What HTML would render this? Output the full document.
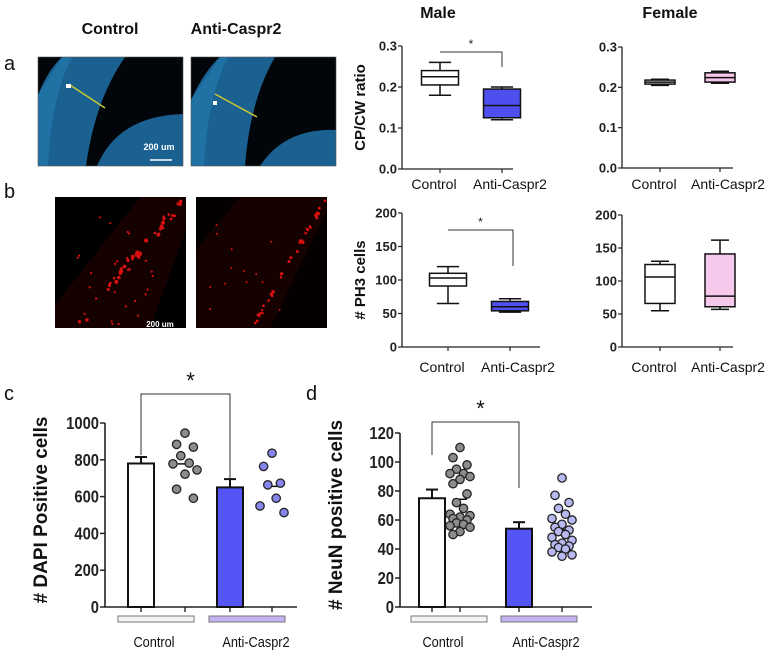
<!DOCTYPE html>
<html><head><meta charset="utf-8">
<style>
html,body{margin:0;padding:0;background:#fff;}
svg{display:block;font-family:"Liberation Sans",Arial,sans-serif;}
</style></head>
<body>
<svg id="fig" width="778" height="655" viewBox="0 0 778 655" xmlns="http://www.w3.org/2000/svg">
<defs>
 <clipPath id="c1"><rect x="38" y="57" width="145" height="109"/></clipPath>
 <clipPath id="c2"><rect x="191" y="57" width="145" height="109"/></clipPath>
 <clipPath id="c3"><rect x="55" y="197" width="131" height="131"/></clipPath>
 <clipPath id="c4"><rect x="196" y="197" width="131" height="131"/></clipPath>
</defs>
<g font-weight="bold" font-size="16" fill="#111">
 <text x="110" y="34" text-anchor="middle">Control</text>
 <text x="236" y="34" text-anchor="middle">Anti-Caspr2</text>
 <text x="438" y="18" text-anchor="middle">Male</text>
 <text x="670" y="18" text-anchor="middle">Female</text>
</g>
<g font-size="20" fill="#111">
 <text x="4" y="70">a</text>
 <text x="4" y="198">b</text>
 <text x="4" y="400">c</text>
 <text x="306" y="400">d</text>
</g>
<!-- DAPI images -->
<g clip-path="url(#c1)">
 <rect x="38" y="57" width="145" height="109" fill="#02060a"/>
 <path d="M62 57 L125 57 Q95 100 86 166 L38 166 L38 95 Q48 70 62 57 Z" fill="#1a6192"/>
 <path d="M62 57 L72 57 Q52 95 48 166 L38 166 L38 95 Z" fill="#2478ad" opacity="0.7"/>
 <path d="M97 166 Q118 116 183 114 L183 166 Z" fill="#1a6192"/>
 <line x1="70" y1="85" x2="105" y2="108" stroke="#c8c832" stroke-width="1.5"/>
 <rect x="66" y="84" width="5" height="4" fill="#fff"/>
 <text x="159" y="150" font-size="9" fill="#fff" font-weight="bold" text-anchor="middle">200  um</text>
 <line x1="150" y1="160" x2="172" y2="160" stroke="#fff" stroke-width="1.5"/>
</g>
<rect x="38" y="57" width="145" height="109" fill="none" stroke="#555" stroke-width="0.6"/>
<g clip-path="url(#c2)">
 <rect x="191" y="57" width="145" height="109" fill="#02060a"/>
 <path d="M220 57 L275 57 Q250 100 245 166 L191 166 L191 100 Q205 70 220 57 Z" fill="#1a6192"/>
 <path d="M220 57 L228 57 Q208 95 204 166 L191 166 L191 100 Z" fill="#2478ad" opacity="0.7"/>
 <path d="M260 166 Q285 128 336 130 L336 166 Z" fill="#1a6192"/>
 <line x1="215" y1="94" x2="257" y2="117" stroke="#c8c832" stroke-width="1.5"/>
 <rect x="213" y="101" width="4" height="4" fill="#fff"/>
</g>
<rect x="191" y="57" width="145" height="109" fill="none" stroke="#555" stroke-width="0.6"/>
<!-- PH3 images -->
<g clip-path="url(#c3)">
 <rect x="55" y="197" width="131" height="131" fill="#000"/>
 <path d="M55 305 L140 197 L186 197 L186 230 L150 328 L55 328 Z" fill="#160101"/>
 <g id="dots1" fill="#d81010"></g>
 <text x="160" y="327" font-size="8" fill="#fff" font-weight="bold" text-anchor="middle">200  um</text>
</g>
<g clip-path="url(#c4)">
 <rect x="196" y="197" width="131" height="131" fill="#050000"/>
 <path d="M196 250 L240 197 L327 197 L327 210 L270 328 L196 328 Z" fill="#160101"/>
 <g id="dots2" fill="#d81010"></g>
</g>
<g id="charts"></g>
</svg>
<script>
// ---------- data ----------
const boxCats = ["Control", "Anti-Caspr2"];
const maleCpcw = [[0.18,0.205,0.225,0.24,0.26],[0.12,0.125,0.155,0.195,0.20]];
const femaleCpcw = [[0.205,0.208,0.213,0.218,0.22],[0.21,0.213,0.224,0.236,0.24]];
const malePh3 = [[65,91,103,110,120],[52,54,60,68,72]];
const femalePh3 = [[55,66,106,125,130],[57,61,77,141,162]];
const cpcwTicks = ["0.0","0.1","0.2","0.3"];
const ph3Ticks = ["0","50","100","150","200"];
const dapiMeans = [780, 650];
const dapiSem = [35, 45];
const dapiControlDots = [945,884,869,822,782,778,745,722,640,591];
const dapiAntiDots = [836,764,673,664,591,549,513];
const dapiTicks = ["0","200","400","600","800","1000"];
const neunMeans = [75, 54];
const neunSem = [6, 4.5];
const neunControlDots = [110,103,98,95,92,92,90,88,85,78,72,68,64,63,62,61,60,58,57,56,55,52,50];
const neunAntiDots = [89,77,72,68,64,61,60,57,55,53,52,50,48,46,44,43,42,41,40,38,36,35];
const neunTicks = ["0","20","40","60","80","100","120"];

const NS="http://www.w3.org/2000/svg";
const root=document.getElementById('charts');
function mk(tag,attrs,parent,text){const e=document.createElementNS(NS,tag);for(const k in attrs)e.setAttribute(k,attrs[k]);if(text!==undefined)e.textContent=text;(parent||root).appendChild(e);return e;}

// decorative red dots (image texture)
(function(){
 let s=7;function r(){s=(s*9301+49297)%233280;return s/233280;}
 const g1=document.getElementById('dots1'),g2=document.getElementById('dots2');
 for(let i=0;i<40;i++){const t=r();mk('circle',{cx:186-t*110+(r()-0.5)*8,cy:197+t*131+(r()-0.5)*6,r:1.2+r()*0.9},g1);}
 for(let i=0;i<25;i++){mk('circle',{cx:75+r()*80,cy:215+r()*110,r:1.1},g1);}
 for(let i=0;i<35;i++){const t=r();mk('circle',{cx:327-t*75+(r()-0.5)*4,cy:197+t*131,r:1.1+r()*0.7},g2);}
 for(let i=0;i<14;i++){mk('circle',{cx:210+r()*70,cy:225+r()*100,r:1.0},g2);}
})();

function boxChart(name,x0,x1,yTop,yBot,max,ticks,cats,data,fills,yLabel,centers,bw,sig,xlY){
 const g=mk('g',{});
 
 
 const y=v=>yBot-(v/max)*(yBot-yTop);
 mk('line',{x1:x0,y1:yTop,x2:x0,y2:yBot,stroke:'#222','stroke-width':1.3},g);
 mk('line',{x1:x0,y1:yBot,x2:x1,y2:yBot,stroke:'#222','stroke-width':1.3},g);
 ticks.forEach((t,i)=>{const v=parseFloat(t);const yy=y(v);
  mk('line',{x1:x0-4,y1:yy,x2:x0,y2:yy,stroke:'#222','stroke-width':1.2},g);
  const tx=mk('text',{x:x0-5,y:yy+4.5,'text-anchor':'end','font-size':13,'font-weight':'bold',fill:'#222'},g,t);
  
  
 });
 data.forEach((d,i)=>{const cx=centers[i];
  mk('line',{x1:cx,y1:yBot,x2:cx,y2:yBot+4,stroke:'#222','stroke-width':1.2},g);
  const bg=mk('g',{},g);
  
  
  mk('line',{x1:cx,y1:y(d[0]),x2:cx,y2:y(d[1]),stroke:'#111','stroke-width':1.5},bg);
  mk('line',{x1:cx,y1:y(d[3]),x2:cx,y2:y(d[4]),stroke:'#111','stroke-width':1.5},bg);
  mk('line',{x1:cx-bw*0.3,y1:y(d[0]),x2:cx+bw*0.3,y2:y(d[0]),stroke:'#111','stroke-width':1.5},bg);
  mk('line',{x1:cx-bw*0.3,y1:y(d[4]),x2:cx+bw*0.3,y2:y(d[4]),stroke:'#111','stroke-width':1.5},bg);
  mk('rect',{x:cx-bw/2,y:y(d[3]),width:bw,height:Math.max(1,y(d[1])-y(d[3])),fill:fills[i],stroke:'#111','stroke-width':1.5},bg);
  mk('line',{x1:cx-bw/2,y1:y(d[2]),x2:cx+bw/2,y2:y(d[2]),stroke:'#111','stroke-width':1.5},bg);
  const xl=mk('text',{x:cx+(i==0?-6:8),y:xlY,'text-anchor':'middle','font-size':14,fill:'#111'},g,cats[i]);
  
  
 });
 const yl=mk('text',{x:0,y:0,'text-anchor':'middle','font-size':15,'font-weight':'bold',fill:'#111',transform:`translate(${x0-37},${(yTop+yBot)/2}) rotate(-90)`},g,yLabel);
 
 
 if(sig){
  const sg=mk('g',{},g);
  
  
  mk('path',{d:`M${centers[0]} ${sig[0]} H${sig[2]} V${sig[1]}`,fill:'none',stroke:'#333','stroke-width':1},sg);
  mk('text',{x:(centers[0]+sig[2])/2,y:sig[0]-4,'text-anchor':'middle','font-size':12,fill:'#222'},sg,'*');
 }
}
boxChart('male-cpcw-chart',402,513,46,169,0.3,cpcwTicks,boxCats,maleCpcw,['#fff','#4f4ff0'],'CP/CW ratio',[440,502],37,[52,67,502],189);
boxChart('female-cpcw-chart',622,733,47,168,0.3,cpcwTicks,boxCats,femaleCpcw,['#fff','#f6c8ec'],'',[660,720],30,null,189);
boxChart('male-ph3-chart',402,540,213,347,200,ph3Ticks,boxCats,malePh3,['#fff','#4f4ff0'],'# PH3 cells',[448,510],37,[230,266,513],372);
boxChart('female-ph3-chart',622,733,215,347,200,ph3Ticks,boxCats,femalePh3,['#fff','#f6c8ec'],'',[660,720],30,null,372);

function barChart(name,x0,x1,yTop,yBot,max,ticks,means,sem,ctrlDots,antiDots,centers,dotFills,yLabel,sig,groupX,labelX){
 const g=mk('g',{});
 
 
 const y=v=>yBot-(v/max)*(yBot-yTop);
 mk('line',{x1:x0,y1:yTop,x2:x0,y2:yBot,stroke:'#222','stroke-width':1.6},g);
 mk('line',{x1:x0,y1:yBot,x2:x1,y2:yBot,stroke:'#222','stroke-width':1.6},g);
 ticks.forEach(t=>{const yy=y(parseFloat(t));
  mk('line',{x1:x0-5,y1:yy,x2:x0,y2:yy,stroke:'#222','stroke-width':1.5},g);
  const tx=mk('text',{x:x0-6,y:yy+6,'text-anchor':'end','font-size':18,'font-weight':'bold',fill:'#222',transform:`translate(${x0-6},0) scale(0.82,1) translate(${-(x0-6)},0)`},g,t);
  
  
 });
 centers.forEach(cx=>mk('line',{x1:cx,y1:yBot,x2:cx,y2:yBot+5,stroke:'#222','stroke-width':1.4},g));
 const barFills=['#fff','#5555f5'];
 means.forEach((m,i)=>{const cx=centers[i*2];
  const b=mk('rect',{x:cx-13,y:y(m),width:26,height:yBot-y(m),fill:barFills[i],stroke:'#111','stroke-width':2},g);
  
  
  mk('line',{x1:cx,y1:y(m),x2:cx,y2:y(m+sem[i]),stroke:'#111','stroke-width':2},g);
  mk('line',{x1:cx-6,y1:y(m+sem[i]),x2:cx+6,y2:y(m+sem[i]),stroke:'#111','stroke-width':2},g);
 });
 [ctrlDots,antiDots].forEach((arr,k)=>{const cx=centers[k*2+1];
  const dg=mk('g',{},g);
  
  
  const mean=arr.reduce((a,b)=>a+b,0)/arr.length;
  mk('line',{x1:cx-7,y1:y(mean),x2:cx+7,y2:y(mean),stroke:'#111','stroke-width':1.5},dg);
  arr.forEach((v,j)=>{const off=[0,-7,7,-3.5,3.5,-10,10][j%7]*(arr.length>12?1:1.2);
   const c=mk('circle',{cx:cx+off,cy:y(v),r:4.2,fill:dotFills[k],stroke:'#222','stroke-width':1.3},dg);
   
   
  });
 });
 const yl=mk('text',{x:0,y:0,'text-anchor':'middle','font-size':19,'font-weight':'bold',fill:'#111',transform:`translate(${x0-58},${(yTop+yBot)/2-5}) rotate(-90)`},g,yLabel);
 
 
 const sg=mk('g',{},g);
 
 
 mk('path',{d:`M${centers[0]} ${sig[1]} V${sig[0]} H${centers[2]} V${sig[2]}`,fill:'none',stroke:'#333','stroke-width':1},sg);
 mk('text',{x:(centers[0]+centers[2])/2+5,y:sig[0]-6,'text-anchor':'middle','font-size':22,fill:'#111'},sg,'*');
 const gc=['#f4f4f4','#c4b2f2'];
 ['Control','Anti-Caspr2'].forEach((n,i)=>{
  const r=mk('rect',{x:groupX[i],y:yBot+9,width:76,height:6,fill:gc[i],stroke:'#777','stroke-width':1},g);
  
  
  const t=mk('text',{x:labelX[i],y:yBot+40,'text-anchor':'middle','font-size':15,fill:'#111',transform:`translate(${labelX[i]},0) scale(0.85,1) translate(${-labelX[i]},0)`},g,n);
  
  
 });
}
barChart('dapi-chart',105,297,423,607,1000,dapiTicks,dapiMeans,dapiSem,dapiControlDots,dapiAntiDots,[141,185,230,272],['#8c8c8c','#8585ee'],'# DAPI Positive cells',[394,455,478],[118,209],[154,256]);
barChart('neun-chart',400,592,433,607,120,neunTicks,neunMeans,neunSem,neunControlDots,neunAntiDots,[432,460,519,562],['#8c8c8c','#b9b9f2'],'# NeuN positive cells',[422,455,488],[411,501],[443,546]);
</script>
</body></html>
